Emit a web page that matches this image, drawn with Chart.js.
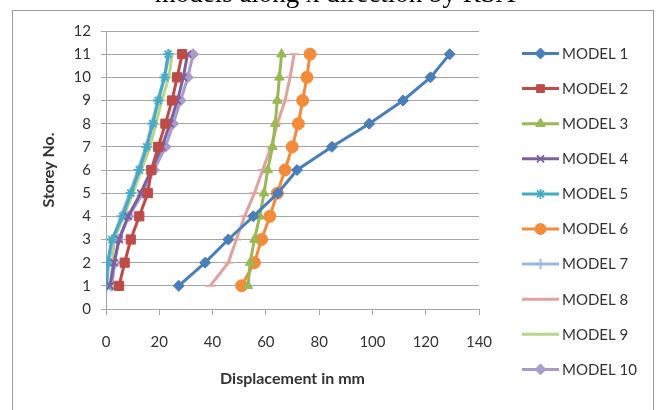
<!DOCTYPE html>
<html>
<head>
<meta charset="utf-8">
<script src="https://cdn.jsdelivr.net/npm/chart.js@4.4.1/dist/chart.umd.min.js"></script>
<style>
  html, body { margin: 0; padding: 0; background: #ffffff; }
  #wrap { position: relative; width: 657px; height: 410px; }
</style>
</head>
<body>
<div id="wrap"><canvas id="chart" width="657" height="410"></canvas></div>
<script>
// Storey levels (y) and lateral displacement in mm (x) per model
const storeys = [1, 2, 3, 4, 5, 6, 7, 8, 9, 10, 11];
const modelNames = ['MODEL 1', 'MODEL 2', 'MODEL 3', 'MODEL 4', 'MODEL 5',
                    'MODEL 6', 'MODEL 7', 'MODEL 8', 'MODEL 9', 'MODEL 10'];

const model1  = [27.3, 37.2, 45.9, 55.3, 64.5, 71.7, 84.8, 98.8, 111.5, 121.8, 129.0];
const model2  = [4.9, 7.0, 9.3, 12.5, 15.7, 17.0, 19.6, 22.3, 24.8, 26.7, 28.6];
const model3  = [53.3, 54.1, 55.7, 57.7, 59.3, 60.7, 62.5, 63.5, 64.3, 65.1, 65.9];
const model4  = [1.5, 3.0, 5.0, 8.3, 13.0, 17.0, 21.0, 24.0, 26.8, 29.0, 30.6];
const model5  = [0.2, 0.6, 2.2, 6.2, 9.3, 12.5, 15.3, 17.6, 19.6, 22.0, 23.3];
const model6  = [50.9, 55.7, 58.4, 61.5, 64.3, 67.2, 69.9, 72.2, 73.8, 75.4, 76.6];
const model7  = [0.3, 1.0, 2.6, 5.6, 9.0, 12.0, 15.0, 17.2, 19.5, 21.8, 23.8];
const model8  = [39.1, 45.9, 48.9, 52.0, 55.7, 58.8, 62.0, 64.3, 67.2, 69.1, 70.6];
const model9  = [1.7, 2.5, 3.0, 6.6, 10.1, 13.3, 16.5, 18.8, 20.9, 23.6, 24.8];
const model10 = [2.2, 3.3, 4.6, 8.5, 13.8, 18.0, 22.3, 25.2, 28.0, 30.7, 32.7];

const xTickValues = [0, 20, 40, 60, 80, 100, 120, 140];
const yTickValues = [0, 1, 2, 3, 4, 5, 6, 7, 8, 9, 10, 11, 12];

const seriesValues = [model1, model2, model3, model4, model5, model6, model7, model8, model9, model10];
const seriesColors = ['#4A7EBB', '#BE4B48', '#98B954', '#7D60A0', '#46AAC5',
                      '#F38B3A', '#9BB7E0', '#DFA2A0', '#B9D58C', '#A99BCB'];
const seriesMarkers = ['rectRot', 'rect', 'triangle', 'crossRot', 'star',
                       'circle', 'cross', 'line', 'line', 'rectRot'];
const markerRadius = [5.5, 6.5, 5.5, 5, 5, 6, 5, 5, 5, 5.5];
const strokeMarkers = ['crossRot', 'star', 'cross', 'line'];

const datasets = modelNames.map((name, i) => ({
  label: name,
  data: storeys.map((s, k) => ({ x: seriesValues[i][k], y: s })),
  showLine: true,
  borderColor: seriesColors[i],
  backgroundColor: seriesColors[i],
  borderWidth: 3,
  pointStyle: seriesMarkers[i],
  pointRadius: markerRadius[i],
  pointBorderWidth: strokeMarkers.includes(seriesMarkers[i]) ? 1.8 : 1,
  pointBackgroundColor: seriesColors[i],
  pointBorderColor: seriesColors[i]
}));

const tickFont = { family: 'Lato', size: 15 };
const titleFont = { family: 'Lato', size: 16, weight: 'bold' };
const axisGrey = '#a6a6a6';
const textGrey = '#333333';

// Outer frame and the clipped caption line above it
const framePlugin = {
  id: 'frame',
  beforeDraw(chart) {
    const ctx = chart.ctx;
    ctx.save();
    ctx.fillStyle = '#ffffff';
    ctx.fillRect(0, 0, chart.width, chart.height);
    ctx.strokeStyle = '#9a9a9a';
    ctx.lineWidth = 1;
    ctx.strokeRect(12.5, 10.5, 641, 420);
    ctx.fillStyle = '#000000';
    ctx.font = '27px "Liberation Serif"';
    ctx.textAlign = 'center';
    ctx.textBaseline = 'alphabetic';
    ctx.fillText('models along x direction by RSA', 335, 2);
    ctx.restore();
  }
};

// Legend: line sample with the series marker, then its name
const seriesLegendPlugin = {
  id: 'seriesLegend',
  afterDraw(chart) {
    const ctx = chart.ctx;
    const area = chart.chartArea;
    const x0 = area.right + 43;
    const x1 = x0 + 37;
    const top = 53.5;
    const step = 35.1;
    ctx.save();
    chart.data.datasets.forEach((ds, i) => {
      const y = top + i * step;
      ctx.strokeStyle = ds.borderColor;
      ctx.lineWidth = ds.borderWidth;
      ctx.beginPath();
      ctx.moveTo(x0, y);
      ctx.lineTo(x1, y);
      ctx.stroke();
      ctx.fillStyle = ds.pointBackgroundColor;
      ctx.strokeStyle = ds.pointBorderColor;
      ctx.lineWidth = ds.pointBorderWidth;
      Chart.helpers.drawPoint(ctx, {
        pointStyle: ds.pointStyle,
        rotation: 0,
        radius: Math.min(ds.pointRadius, 5.5),
        borderWidth: ds.pointBorderWidth
      }, (x0 + x1) / 2, y);
      ctx.fillStyle = textGrey;
      ctx.font = '15px Lato';
      ctx.textAlign = 'left';
      ctx.textBaseline = 'middle';
      ctx.fillText(ds.label, x1 + 3, y + 0.5);
    });
    ctx.restore();
  }
};

new Chart(document.getElementById('chart'), {
  type: 'scatter',
  data: { datasets },
  plugins: [framePlugin, seriesLegendPlugin],
  options: {
    responsive: false,
    devicePixelRatio: 1,
    animation: false,
    layout: { padding: { left: 0, right: 178, top: 31, bottom: 0 } },
    plugins: {
      legend: { display: false },
      tooltip: { enabled: false }
    },
    scales: {
      x: {
        type: 'linear',
        min: 0,
        max: 140,
        afterBuildTicks(scale) { scale.ticks = xTickValues.map(v => ({ value: v })); },
        afterFit(scale) { scale.height = 101; },
        ticks: { font: tickFont, color: textGrey, padding: 18, maxRotation: 0 },
        grid: { drawOnChartArea: false, drawTicks: true, tickLength: 6, color: axisGrey, lineWidth: 1 },
        border: { display: true, color: axisGrey, width: 1 },
        title: { display: true, text: 'Displacement in mm', font: titleFont, color: textGrey,
                 padding: { top: 0, bottom: 22 } }
      },
      y: {
        type: 'linear',
        min: 0,
        max: 12,
        afterBuildTicks(scale) { scale.ticks = yTickValues.map(v => ({ value: v })); },
        afterFit(scale) { scale.width = 106; },
        ticks: { font: tickFont, color: textGrey, padding: 10 },
        grid: { drawTicks: true, tickLength: 5, color: axisGrey, lineWidth: 1 },
        border: { display: true, color: axisGrey, width: 1 },
        title: { display: true, text: 'Storey No.', font: titleFont, color: textGrey,
                 padding: { top: 39, bottom: 0 } }
      }
    }
  }
});
</script>
</body>
</html>
